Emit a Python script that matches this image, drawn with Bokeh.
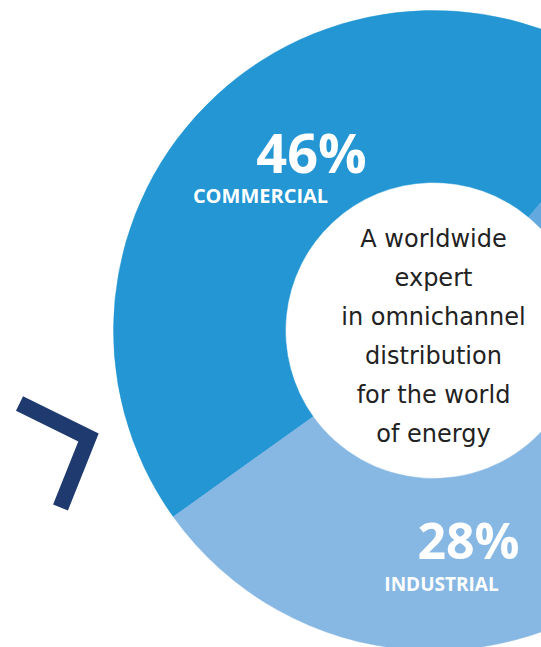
import numpy as np
from bokeh.plotting import figure
from bokeh.models import Range1d, ColumnDataSource
from bokeh.core.properties import value
from bokeh.embed import file_html
from bokeh.resources import INLINE

# ---- data ----
segments = ["Commercial", "Industrial", "Other"]
shares = [46, 28, 26]
seg_colors = ["#2396D3", "#87B7E3", "#63A9DF"]
big_labels = ["46%", "28%"]
small_labels = ["COMMERCIAL", "INDUSTRIAL"]
center_lines = ["A worldwide", "expert", "in omnichannel", "distribution",
                "for the world", "of energy"]

# ---- layout (screen-pixel like coordinates, y measured upward) ----
W, H = 541, 647
def Y(sy, fs=0.0):
    # baseline at screen y `sy`, corrected for the svg baseline offset
    return H - sy + 0.38 * fs

p = figure(width=W, height=H, output_backend="svg", toolbar_location=None,
           x_range=Range1d(0, W), y_range=Range1d(0, H),
           min_border=0, outline_line_color=None, background_fill_color="white",
           border_fill_color="white")
p.axis.visible = False
p.grid.visible = False

cx, cy = 433, Y(330)
r_in, r_out = 148, 320
start0 = np.deg2rad(50.0)
ang = np.array(shares, dtype=float) / sum(shares) * 2 * np.pi
ends = start0 + np.cumsum(ang)
starts = ends - ang
src = ColumnDataSource(dict(start=starts, end=ends, color=seg_colors, name=segments))
p.annular_wedge(x=cx, y=cy, inner_radius=r_in, outer_radius=r_out,
                start_angle="start", end_angle="end",
                fill_color="color", line_color="color", line_width=0.5, source=src)

# percentages and names
font = value("Open Sans")
p.text(x=[311], y=[Y(172, 54)], text=big_labels[:1], text_font=font,
       text_font_size="54px", text_font_style="bold", text_color="white",
       text_align="center", text_baseline="alphabetic")
p.text(x=[468], y=[Y(558, 50)], text=big_labels[1:], text_font=font,
       text_font_size="50px", text_font_style="bold", text_color="white",
       text_align="center", text_baseline="alphabetic")
p.text(x=[260], y=[Y(203, 20)], text=small_labels[:1], text_font=font,
       text_font_size="20px", text_font_style="bold", text_color="white",
       text_align="center", text_baseline="alphabetic")
p.text(x=[441], y=[Y(591, 19)], text=small_labels[1:], text_font=font,
       text_font_size="19px", text_font_style="bold", text_color="white",
       text_align="center", text_baseline="alphabetic")

# center text
base = [248, 287, 326, 365, 404, 443]
p.text(x=[cx] * len(center_lines), y=[Y(b, 24) for b in base], text=center_lines,
       text_font=value("DejaVu Sans"), text_font_size="24px", text_color="#222222",
       text_align="center", text_baseline="alphabetic")

# decorative chevron
p.line(x=[19, 88, 60], y=[Y(403), Y(437), Y(507)], line_width=16,
       line_color="#1F3A6E", line_cap="butt", line_join="miter")

open("out.html", "w").write(file_html(p, INLINE))
